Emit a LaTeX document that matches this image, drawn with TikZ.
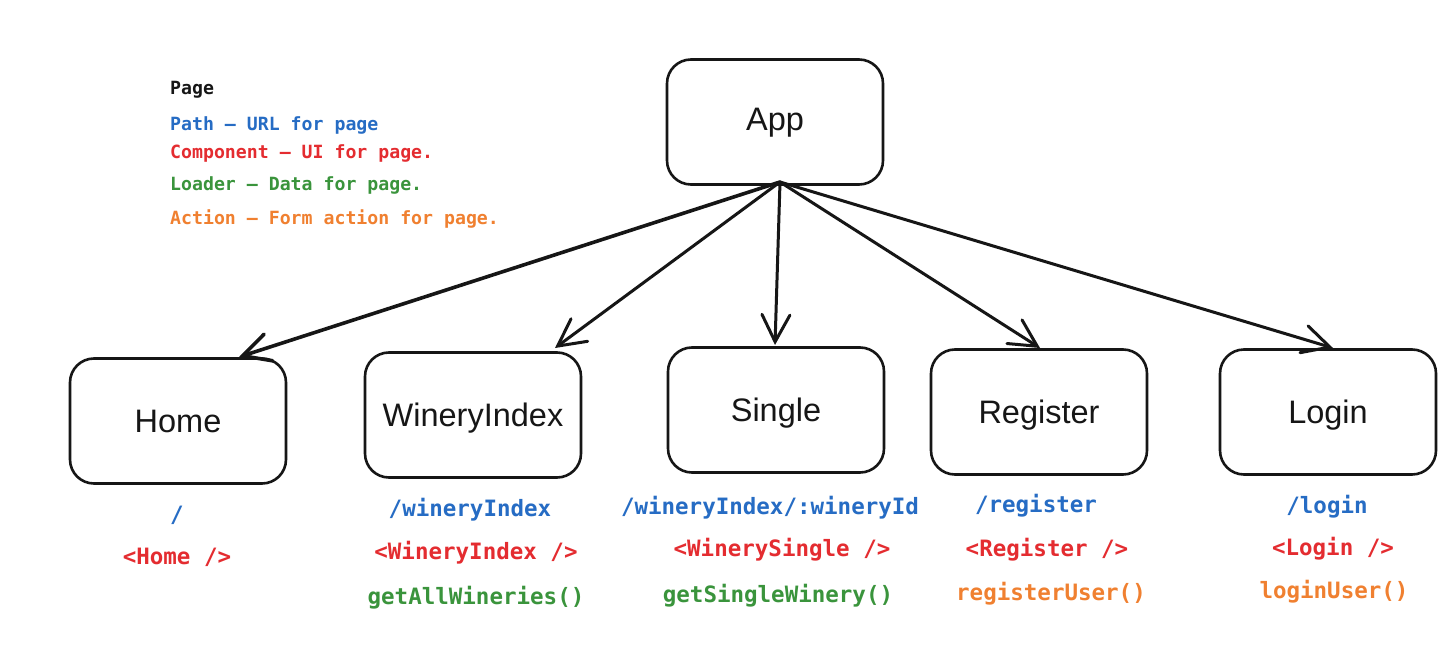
\documentclass[tikz,border=0pt]{standalone}
\usepackage{fontspec}
\setmainfont{Liberation Sans}
\newfontfamily\codefont{DejaVu Sans Mono}
\usetikzlibrary{arrows.meta}
\definecolor{cblue}{RGB}{38,108,196}
\definecolor{cred}{RGB}{228,44,48}
\definecolor{cgreen}{RGB}{58,148,60}
\definecolor{corange}{RGB}{240,128,48}
\definecolor{cblack}{RGB}{22,22,22}
\tikzset{
  pagebox/.style={draw=cblack, line width=2.6pt, rounded corners=24pt, minimum width=216pt, minimum height=125pt, inner sep=0pt, text height=23.4pt, text depth=-3.6pt, font=\fontsize{32.5}{36}\selectfont, text=cblack},
  legend/.style={anchor=west, inner sep=0pt, font=\codefont\bfseries\fontsize{18.2}{20}\selectfont},
  code/.style={inner sep=0pt, font=\codefont\bfseries\fontsize{22.5}{25}\selectfont},
  link/.style={draw=cblack, line width=3pt, line cap=round, -{Straight Barb[length=27pt,width=28pt,line cap=round]}},
}
\begin{document}
\begin{tikzpicture}[x=1pt,y=-1pt]
\path[use as bounding box, fill=white] (0,0) rectangle (1455,663);

% legend
\node[legend, text=cblack] (lpage) at (170,90) {Page};
\node[legend, text=cblue] (lpath) at (170,125) {Path – URL for page};
\node[legend, text=cred] (lcomp) at (170,153) {Component – UI for page.};
\node[legend, text=cgreen] (lload) at (170,185) {Loader – Data for page.};
\node[legend, text=corange] (lact) at (170,219) {Action – Form action for page.};

% boxes
\node[pagebox, text depth=6pt] (app) at (775,122) {App};
\node[pagebox] (home) at (178,421) {Home};
\node[pagebox] (wi) at (473,415) {WineryIndex};
\node[pagebox] (single) at (776,410) {Single};
\node[pagebox] (reg) at (1039,412) {Register};
\node[pagebox] (login) at (1328,412) {Login};

% connector ends
\coordinate (appbot) at (780,182);
\coordinate (hometip) at (239,357);
\coordinate (witip) at (555,348);
\coordinate (singletip) at (775,345);
\coordinate (regtip) at (1040,348);
\coordinate (logintip) at (1333,348);

\draw[link, line width=3.6pt] (appbot) -- (hometip);
\draw[link] (appbot) -- (witip);
\draw[link] (appbot) -- (singletip);
\draw[link] (appbot) -- (regtip);
\draw[link] (appbot) -- (logintip);

% labels under boxes
\node[code, text=cblue] (homepath) at (177,515) {/};
\node[code, text=cred] (homecomp) at (177,557) {<Home />};

\node[code, text=cblue] (wipath) at (470,510) {/wineryIndex};
\node[code, text=cred] (wicomp) at (476,553) {<WineryIndex />};
\node[code, text=cgreen] (wiload) at (476,598) {getAllWineries()};

\node[code, text=cblue] (spath) at (770,508) {/wineryIndex/:wineryId};
\node[code, text=cred] (scomp) at (782,550) {<WinerySingle />};
\node[code, text=cgreen] (sload) at (778,596) {getSingleWinery()};

\node[code, text=cblue] (rpath) at (1036,506) {/register};
\node[code, text=cred] (rcomp) at (1047,550) {<Register />};
\node[code, text=corange] (ract) at (1051,594) {registerUser()};

\node[code, text=cblue] (lgpath) at (1327,507) {/login};
\node[code, text=cred] (lgcomp) at (1333,549) {<Login />};
\node[code, text=corange] (lgact) at (1334,592) {loginUser()};
\end{tikzpicture}
\end{document}
